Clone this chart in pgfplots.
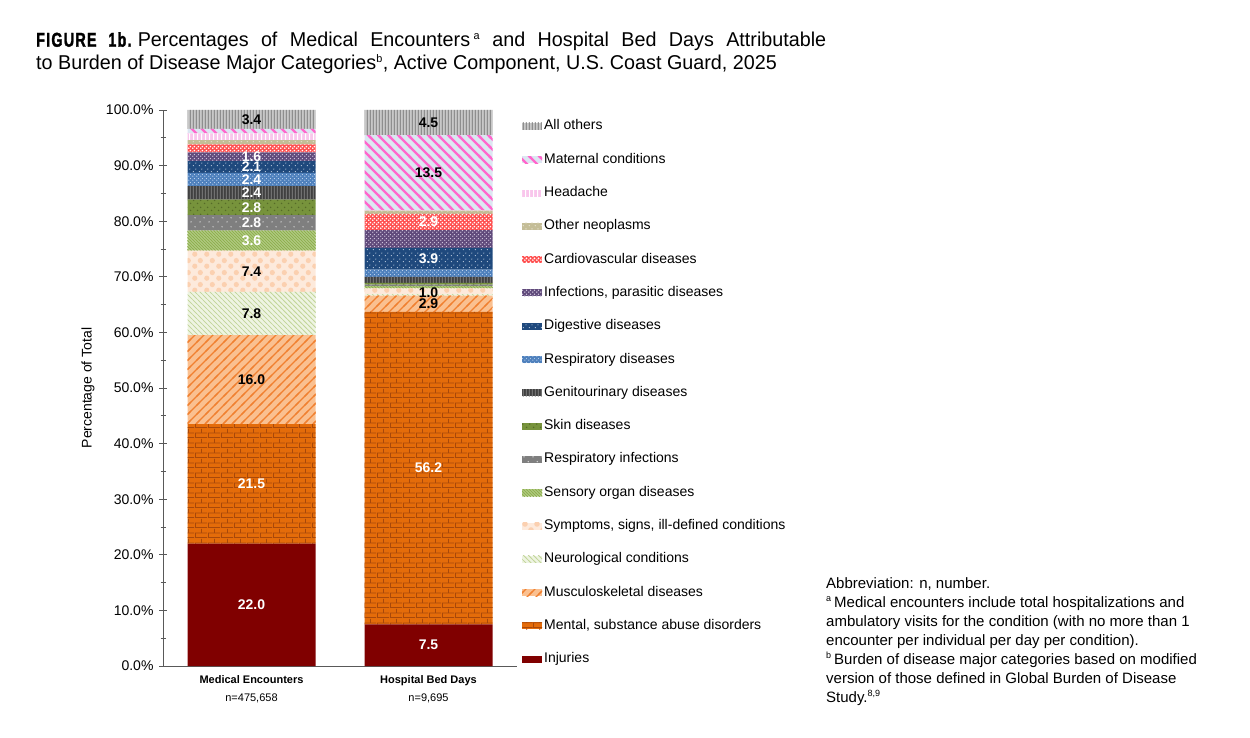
\documentclass[border=0pt]{standalone}
\usepackage{fontspec}
\setmainfont{Liberation Sans}
\newfontfamily\titlefont[FakeStretch=0.987]{Liberation Sans}
\newfontfamily\condfont[FakeStretch=0.72,LetterSpace=6,BoldFeatures={FakeBold=1.6}]{Liberation Sans}
\usepackage{pgfplots}
\pgfplotsset{compat=1.18}
\usetikzlibrary{patterns}
% custom patterns
\newcommand{\declVLines}[3]{\pgfdeclarepatternformonly{#1}{\pgfpoint{0pt}{0pt}}{\pgfpoint{#2}{1pt}}{\pgfpoint{#2}{1pt}}{\pgfsetlinewidth{#3}\pgfpathmoveto{\pgfpoint{0.5*#2}{-1pt}}\pgfpathlineto{\pgfpoint{0.5*#2}{2pt}}\pgfusepath{stroke}}}
\newcommand{\declNE}[3]{\pgfdeclarepatternformonly{#1}{\pgfpoint{-2pt}{-2pt}}{\pgfpoint{#2+2pt}{#2+2pt}}{\pgfpoint{#2}{#2}}{\pgfsetlinewidth{#3}\pgfpathmoveto{\pgfpoint{-2pt}{-2pt}}\pgfpathlineto{\pgfpoint{#2+2pt}{#2+2pt}}\pgfusepath{stroke}}}
\newcommand{\declNW}[3]{\pgfdeclarepatternformonly{#1}{\pgfpoint{-2pt}{-2pt}}{\pgfpoint{#2+2pt}{#2+2pt}}{\pgfpoint{#2}{#2}}{\pgfsetlinewidth{#3}\pgfpathmoveto{\pgfpoint{-2pt}{#2+2pt}}\pgfpathlineto{\pgfpoint{#2+2pt}{-2pt}}\pgfusepath{stroke}}}
\newcommand{\declDots}[3]{\pgfdeclarepatternformonly{#1}{\pgfpoint{0pt}{0pt}}{\pgfpoint{#2}{#2}}{\pgfpoint{#2}{#2}}{\pgfpathcircle{\pgfpoint{0.25*#2}{0.25*#2}}{#3}\pgfpathcircle{\pgfpoint{0.75*#2}{0.75*#2}}{#3}\pgfusepath{fill}}}
\declVLines{pOth}{3pt}{1pt}
\declVLines{pGen}{3pt}{1pt}
\declVLines{pHead}{4pt}{1.3pt}
\declNW{pMat}{10pt}{2.4pt}
\declNE{pMusc}{9pt}{1.2pt}
\declNW{pNeuro}{5pt}{0.7pt}
\declNW{pSens}{3pt}{0.8pt}
\declDots{pSymp}{12pt}{2.8pt}
\declDots{pRinf}{9pt}{0.8pt}
\declDots{pSkin}{7pt}{0.9pt}
\declDots{pResp}{4pt}{0.7pt}
\declDots{pDig}{6pt}{0.6pt}
\declDots{pInf}{4pt}{0.9pt}
\declDots{pCard}{4pt}{1.1pt}
\declDots{pNeo}{6pt}{0.8pt}
\pgfdeclarepatternformonly{pBrick}{\pgfpoint{0pt}{0pt}}{\pgfpoint{13pt}{10pt}}{\pgfpoint{13pt}{10pt}}{\pgfsetlinewidth{0.9pt}%
\pgfpathmoveto{\pgfpoint{0pt}{0.45pt}}\pgfpathlineto{\pgfpoint{13pt}{0.45pt}}%
\pgfpathmoveto{\pgfpoint{0pt}{5.45pt}}\pgfpathlineto{\pgfpoint{13pt}{5.45pt}}%
\pgfpathmoveto{\pgfpoint{0.45pt}{0pt}}\pgfpathlineto{\pgfpoint{0.45pt}{5pt}}%
\pgfpathmoveto{\pgfpoint{6.95pt}{5pt}}\pgfpathlineto{\pgfpoint{6.95pt}{10pt}}%
\pgfusepath{stroke}}
\definecolor{injC}{HTML}{800000}
\definecolor{mentC}{HTML}{E46C0A}
\definecolor{mentL}{HTML}{A8480A}
\definecolor{muscC}{HTML}{FAC090}
\definecolor{muscL}{HTML}{F08030}
\definecolor{neuroC}{HTML}{EEF4E2}
\definecolor{neuroL}{HTML}{C3D69B}
\definecolor{sympC}{HTML}{FDEADC}
\definecolor{sympL}{HTML}{FBD0B0}
\definecolor{sensC}{HTML}{C3D69B}
\definecolor{sensL}{HTML}{8FB050}
\definecolor{rinfC}{HTML}{7F7F7F}
\definecolor{rinfL}{HTML}{D9D9D9}
\definecolor{skinC}{HTML}{77933C}
\definecolor{skinL}{HTML}{556B28}
\definecolor{genC}{HTML}{404040}
\definecolor{genL}{HTML}{8C8C8C}
\definecolor{respC}{HTML}{4F81BD}
\definecolor{respL}{HTML}{C6D9F1}
\definecolor{digC}{HTML}{1F497D}
\definecolor{digL}{HTML}{E0E8F4}
\definecolor{infC}{HTML}{604A7B}
\definecolor{infL}{HTML}{CCC1DA}
\definecolor{cardC}{HTML}{FF5050}
\definecolor{cardL}{HTML}{FFFFFF}
\definecolor{neoC}{HTML}{C4BD97}
\definecolor{neoL}{HTML}{E4E0CC}
\definecolor{headC}{HTML}{F9C6EC}
\definecolor{headL}{HTML}{FFFFFF}
\definecolor{matC}{HTML}{DCE6F2}
\definecolor{matL}{HTML}{FF66CC}
\definecolor{othC}{HTML}{C8C8C8}
\definecolor{othL}{HTML}{707070}
\tikzset{lbl/.style={font=\bfseries\fontsize{14}{14}\selectfont, inner sep=0pt}}
\begin{document}
\begin{tikzpicture}[x=1pt,y=1pt]
\useasboundingbox (0,0) rectangle (1250,737);
% title
\node[anchor=base west,inner sep=0pt] at (36,690.3) {\makebox[790pt][s]{{\condfont\bfseries\fontsize{20}{24}\selectfont FIGURE 1b.}\ \titlefont\fontsize{20}{24}\selectfont Percentages of Medical Encounters\,\textsuperscript{\fontsize{11}{11}\selectfont a} and Hospital Bed Days Attributable}};
\node[anchor=base west,inner sep=0pt] at (36,667) {\titlefont\fontsize{20}{24}\selectfont to Burden of Disease Major Categories\textsuperscript{\fontsize{11}{11}\selectfont b}, Active Component, U.S. Coast Guard, 2025};
\begin{axis}[
  at={(163pt,71pt)}, anchor=south west,
  scale only axis, width=354pt, height=556pt,
  ybar stacked, bar width=128pt,
  xmin=-0.5, xmax=1.5, ymin=0, ymax=100,
  axis x line*=bottom, axis y line*=left,
  axis line style={draw=black!65, line width=0.8pt},
  xtick={0,1},
  xticklabels={{\textbf{Medical Encounters}\\n=475,658},{\textbf{Hospital Bed Days}\\n=9,695}},
  xticklabel style={align=center, font=\fontsize{11}{18}\selectfont, yshift=-6pt},
  xtick style={draw=none},
  ytick={0,10,...,100},
  minor y tick num=1,
  ytick align=center,
  major tick length=8pt, minor tick length=5pt,
  ytick style={draw=black!65, line width=0.8pt},
  /pgf/number format/assume math mode=true,
  yticklabel={\pgfmathprintnumber[fixed,fixed zerofill,precision=1]{\tick}\%},
  yticklabel style={font=\fontsize{14}{14}\selectfont, xshift=-2pt},
  ylabel={Percentage of Total},
  ylabel style={font=\fontsize{14}{14}\selectfont, at={(axis description cs:-0.212,0.5)}, anchor=center},
  legend image code/.code={\fill[#1] (0pt,-3.5pt) rectangle (20pt,3.5pt);},
  reverse legend,
  legend cell align=left,
  legend style={at={(1.014,0.986)}, anchor=north west, draw=none, fill=none,
    font=\fontsize{14}{14}\selectfont, row sep=16.3pt, column sep=0pt, inner sep=0pt,
    nodes={inner sep=2pt, text height=10pt, text depth=3pt},
    /tikz/every even column/.append style={column sep=3pt}},
]
\addplot[fill=injC, draw=none] coordinates {(0,22.0) (1,7.5)};
\addplot[fill=mentC, draw=none, postaction={pattern=pBrick, pattern color=mentL}] coordinates {(0,21.5) (1,56.2)};
\addplot[fill=muscC, draw=none, postaction={pattern=pMusc, pattern color=muscL}] coordinates {(0,16.0) (1,2.9)};
\addplot[fill=neuroC, draw=none, postaction={pattern=pNeuro, pattern color=neuroL}] coordinates {(0,7.8) (1,0.3)};
\addplot[fill=sympC, draw=none, postaction={pattern=pSymp, pattern color=sympL}] coordinates {(0,7.4) (1,1.0)};
\addplot[fill=sensC, draw=none, postaction={pattern=pSens, pattern color=sensL}] coordinates {(0,3.6) (1,0.4)};
\addplot[fill=rinfC, draw=none, postaction={pattern=pRinf, pattern color=rinfL}] coordinates {(0,2.8) (1,0.3)};
\addplot[fill=skinC, draw=none, postaction={pattern=pSkin, pattern color=skinL}] coordinates {(0,2.8) (1,0.3)};
\addplot[fill=genC, draw=none, postaction={pattern=pGen, pattern color=genL}] coordinates {(0,2.4) (1,1.1)};
\addplot[fill=respC, draw=none, postaction={pattern=pResp, pattern color=respL}] coordinates {(0,2.4) (1,1.3)};
\addplot[fill=digC, draw=none, postaction={pattern=pDig, pattern color=digL}] coordinates {(0,2.1) (1,3.9)};
\addplot[fill=infC, draw=none, postaction={pattern=pInf, pattern color=infL}] coordinates {(0,1.6) (1,3.2)};
\addplot[fill=cardC, draw=none, postaction={pattern=pCard, pattern color=cardL}] coordinates {(0,1.4) (1,2.9)};
\addplot[fill=neoC, draw=none, postaction={pattern=pNeo, pattern color=neoL}] coordinates {(0,0.8) (1,0.6)};
\addplot[fill=headC, draw=none, postaction={pattern=pHead, pattern color=headL}] coordinates {(0,1.2) (1,0.1)};
\addplot[fill=matC, draw=none, postaction={pattern=pMat, pattern color=matL}] coordinates {(0,0.8) (1,13.5)};
\addplot[fill=othC, draw=none, postaction={pattern=pOth, pattern color=othL}] coordinates {(0,3.4) (1,4.5)};
\legend{Injuries, {Mental, substance abuse disorders}, Musculoskeletal diseases, Neurological conditions, {Symptoms, signs, ill-defined conditions}, Sensory organ diseases, Respiratory infections, Skin diseases, Genitourinary diseases, Respiratory diseases, Digestive diseases, {Infections, parasitic diseases}, Cardiovascular diseases, Other neoplasms, Headache, Maternal conditions, All others}
\coordinate (a1) at (axis cs:0,11.0);
\coordinate (a2) at (axis cs:0,32.75);
\coordinate (a3) at (axis cs:0,51.5);
\coordinate (a4) at (axis cs:0,63.4);
\coordinate (a5) at (axis cs:0,71.0);
\coordinate (a6) at (axis cs:0,76.5);
\coordinate (a7) at (axis cs:0,79.7);
\coordinate (a8) at (axis cs:0,82.5);
\coordinate (a9) at (axis cs:0,85.1);
\coordinate (a10) at (axis cs:0,87.5);
\coordinate (a11) at (axis cs:0,89.75);
\coordinate (a12) at (axis cs:0,91.6);
\coordinate (a13) at (axis cs:0,98.3);
\coordinate (b1) at (axis cs:1,3.75);
\coordinate (b2) at (axis cs:1,35.6);
\coordinate (b3) at (axis cs:1,65.1);
\coordinate (b4) at (axis cs:1,67.2);
\coordinate (b5) at (axis cs:1,73.25);
\coordinate (b6) at (axis cs:1,79.85);
\coordinate (b7) at (axis cs:1,88.75);
\coordinate (b8) at (axis cs:1,97.75);
\end{axis}
% segment labels
\node[lbl,text=white] at (a1) {22.0};
\node[lbl,text=white] at (a2) {21.5};
\node[lbl,text=black] at (a3) {16.0};
\node[lbl,text=black] at (a4) {7.8};
\node[lbl,text=black] at (a5) {7.4};
\node[lbl,text=white] at (a6) {3.6};
\node[lbl,text=white] at (a7) {2.8};
\node[lbl,text=white] at (a8) {2.8};
\node[lbl,text=white] at (a9) {2.4};
\node[lbl,text=white] at (a10) {2.4};
\node[lbl,text=white] at (a11) {2.1};
\node[lbl,text=white] at (a12) {1.6};
\node[lbl,text=black] at (a13) {3.4};
\node[lbl,text=white] at (b1) {7.5};
\node[lbl,text=white] at (b2) {56.2};
\node[lbl,text=black] at (b3) {2.9};
\node[lbl,text=black] at (b4) {1.0};
\node[lbl,text=white] at (b5) {3.9};
\node[lbl,text=white] at (b6) {2.9};
\node[lbl,text=black] at (b7) {13.5};
\node[lbl,text=black] at (b8) {4.5};
% footnotes
\node[anchor=north west, inner sep=0pt, align=left, font=\fontsize{15}{19}\selectfont] at (826,160) {Abbreviation: n, number.\\
\textsuperscript{\fontsize{9}{9}\selectfont a}\,Medical encounters include total hospitalizations and\\
ambulatory visits for the condition (with no more than 1\\
encounter per individual per day per condition).\\
\textsuperscript{\fontsize{9}{9}\selectfont b}\,Burden of disease major categories based on modified\\
version of those defined in Global Burden of Disease\\
Study.\textsuperscript{\fontsize{9}{9}\selectfont 8,9}};
\end{tikzpicture}
\end{document}
